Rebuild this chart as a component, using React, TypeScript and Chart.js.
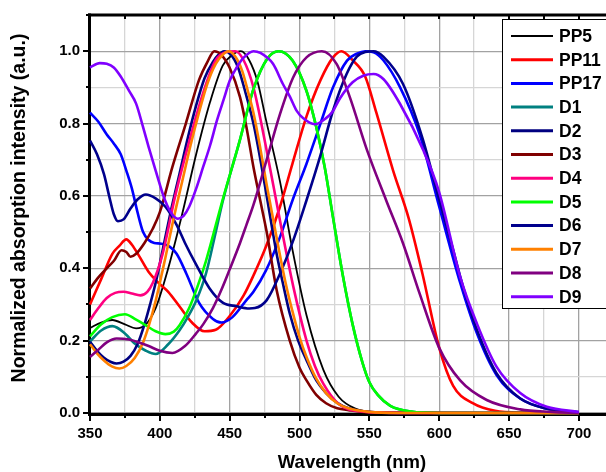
import React, { useEffect, useRef } from 'react';
import { Chart, registerables } from 'chart.js';

Chart.register(...registerables);

const FONT = '"Liberation Sans", Arial, sans-serif';

const seriesNames = ['PP5', 'PP11', 'PP17', 'D1', 'D2', 'D3', 'D4', 'D5', 'D6', 'D7', 'D8', 'D9'];
const seriesColors = ['#000000', '#ff0000', '#0000ff', '#008080', '#000080', '#800000', '#ff0080', '#00ff00', '#00008c', '#ff8000', '#800080', '#8000ff'];

const xTickValues = [350, 400, 450, 500, 550, 600, 650, 700];
const yTickValues = [0.0, 0.2, 0.4, 0.6, 0.8, 1.0];

const pp5Nm = [350, 358, 366, 375, 383, 390, 397, 406, 416, 426, 436, 445, 452, 458, 464, 470, 476, 486, 495, 505, 517, 528, 540, 555, 580, 700];
const pp5Abs = [0.235, 0.25, 0.257, 0.245, 0.234, 0.245, 0.29, 0.4, 0.55, 0.715, 0.86, 0.96, 0.99, 1.0, 0.975, 0.915, 0.81, 0.64, 0.45, 0.27, 0.12, 0.045, 0.012, 0.002, 0, 0];

const pp11Nm = [350, 358, 366, 371, 376, 380, 385, 392, 399, 406, 414, 423, 432, 440, 450, 460, 467, 476, 486, 495, 505, 515, 524, 530, 538, 547, 555, 567, 578, 588, 600, 610, 624, 640, 660, 700];
const pp11Abs = [0.3, 0.37, 0.44, 0.462, 0.48, 0.465, 0.435, 0.39, 0.36, 0.335, 0.295, 0.25, 0.226, 0.23, 0.268, 0.325, 0.38, 0.46, 0.57, 0.69, 0.82, 0.92, 0.983, 1.0, 0.975, 0.93, 0.83, 0.67, 0.54, 0.385, 0.18, 0.075, 0.027, 0.006, 0.001, 0];

const pp17Nm = [350, 356, 362, 367, 372, 376, 380, 384, 388, 392, 396, 401, 407, 412, 419, 428, 438, 444, 452, 462, 467, 476, 486, 495, 505, 515, 524, 534, 541, 547, 553, 560, 572, 586, 600, 615, 627, 641, 658, 677, 700];
const pp17Abs = [0.83, 0.805, 0.77, 0.745, 0.715, 0.67, 0.62, 0.555, 0.5, 0.478, 0.47, 0.468, 0.46, 0.44, 0.385, 0.305, 0.26, 0.25, 0.265, 0.312, 0.335, 0.394, 0.486, 0.588, 0.689, 0.8, 0.9, 0.974, 0.993, 1.0, 0.997, 0.975, 0.9, 0.77, 0.57, 0.36, 0.22, 0.105, 0.04, 0.012, 0.002];

const d1Nm = [350, 358, 366, 375, 382, 390, 397, 406, 414, 420, 426, 433, 440, 445, 457, 467, 477, 485, 495, 505, 512, 518, 524, 531, 538, 545, 550, 556, 565, 580, 600, 700];
const d1Abs = [0.198, 0.228, 0.24, 0.22, 0.192, 0.172, 0.163, 0.19, 0.228, 0.265, 0.31, 0.385, 0.5, 0.585, 0.75, 0.895, 0.98, 1.0, 0.974, 0.89, 0.79, 0.68, 0.54, 0.38, 0.245, 0.14, 0.085, 0.05, 0.02, 0.004, 0, 0];

const d2Nm = [350, 355, 360, 365, 369, 374, 379, 384, 389, 393, 397, 402, 408, 414, 420, 426, 432, 438, 442, 446, 451, 456, 461, 467, 472, 476.5, 483.6, 488, 493, 499, 505, 512, 519, 527, 535, 550, 570, 700];
const d2Abs = [0.197, 0.172, 0.153, 0.141, 0.137, 0.142, 0.158, 0.19, 0.245, 0.3, 0.36, 0.45, 0.56, 0.66, 0.76, 0.85, 0.925, 0.97, 0.99, 1.0, 0.99, 0.955, 0.89, 0.8, 0.7, 0.6, 0.44, 0.36, 0.275, 0.2, 0.146, 0.09, 0.055, 0.028, 0.013, 0.003, 0, 0];

const d3Nm = [350, 356, 362, 367, 372.6, 376, 379, 383, 389, 395, 400, 409, 418.6, 428, 434, 439, 444, 450, 457.4, 462, 467, 472, 476.5, 483.6, 493, 500, 505, 512, 519, 527, 535, 555, 700];
const d3Abs = [0.344, 0.375, 0.4, 0.42, 0.45, 0.445, 0.432, 0.44, 0.47, 0.51, 0.555, 0.68, 0.8, 0.92, 0.97, 1.0, 0.99, 0.954, 0.873, 0.79, 0.68, 0.585, 0.5, 0.34, 0.2, 0.125, 0.09, 0.05, 0.027, 0.013, 0.008, 0.001, 0];

const d4Nm = [350, 356, 362, 368, 374, 380, 386, 391, 395, 402, 411, 421, 431, 440, 447, 454, 460, 467, 476.5, 486, 495.5, 505, 511, 517, 528, 545, 570, 700];
const d4Abs = [0.257, 0.29, 0.318, 0.332, 0.335, 0.33, 0.325, 0.335, 0.36, 0.44, 0.6, 0.75, 0.885, 0.975, 0.997, 1.0, 0.975, 0.9, 0.725, 0.532, 0.35, 0.2, 0.13, 0.081, 0.025, 0.004, 0, 0];

const d5Nm = [350, 358, 366, 375, 383, 390, 397, 404, 410, 414, 421, 427, 433, 445, 457, 467, 477, 485, 495, 505, 512, 518, 524, 531, 538, 545, 550, 556, 565, 580, 600, 700];
const d5Abs = [0.212, 0.245, 0.265, 0.273, 0.258, 0.242, 0.226, 0.218, 0.225, 0.242, 0.29, 0.35, 0.42, 0.59, 0.75, 0.895, 0.98, 1.0, 0.974, 0.89, 0.79, 0.68, 0.54, 0.38, 0.245, 0.14, 0.085, 0.05, 0.02, 0.004, 0, 0];

const d6Nm = [350, 355, 360, 364, 367, 370, 374, 379, 384, 390, 397, 404, 412, 418, 426, 435.5, 445, 455, 464, 468, 476.5, 486, 495.5, 505, 514.6, 524, 533.7, 541, 547, 553, 560, 574, 588, 600, 610, 617, 627, 641, 658, 677, 700];
const d6Abs = [0.753, 0.715, 0.66, 0.595, 0.55, 0.53, 0.535, 0.565, 0.59, 0.604, 0.593, 0.57, 0.52, 0.47, 0.41, 0.345, 0.305, 0.295, 0.289, 0.29, 0.312, 0.385, 0.477, 0.588, 0.707, 0.836, 0.937, 0.985, 0.998, 1.0, 0.985, 0.91, 0.76, 0.59, 0.45, 0.35, 0.23, 0.11, 0.04, 0.012, 0.002];

const d7Nm = [350, 355, 360, 366, 371, 376, 382, 388, 392, 397, 404, 410, 416, 422, 428, 434, 440, 445, 449, 454, 459, 463, 467, 472, 476.5, 484.8, 490, 495, 500, 505, 512, 519, 527, 535, 550, 570, 700];
const d7Abs = [0.19, 0.165, 0.145, 0.128, 0.123, 0.13, 0.152, 0.195, 0.24, 0.31, 0.43, 0.54, 0.64, 0.74, 0.83, 0.91, 0.965, 0.99, 1.0, 0.985, 0.945, 0.89, 0.83, 0.73, 0.63, 0.46, 0.36, 0.28, 0.21, 0.155, 0.095, 0.055, 0.027, 0.013, 0.003, 0, 0];

const d8Nm = [350, 356, 362, 369, 378, 385, 392, 400, 409, 418, 426, 431, 438, 444, 450, 457.4, 462, 467, 476.5, 486, 495.5, 505, 516, 526.5, 536, 548, 562, 574, 586, 600, 615, 634, 658, 680, 700];
const d8Abs = [0.155, 0.175, 0.195, 0.206, 0.203, 0.195, 0.185, 0.172, 0.166, 0.185, 0.22, 0.245, 0.29, 0.34, 0.397, 0.47, 0.52, 0.575, 0.7, 0.826, 0.928, 0.983, 1.0, 0.965, 0.873, 0.73, 0.588, 0.47, 0.33, 0.18, 0.09, 0.036, 0.01, 0.003, 0];

const d9Nm = [350, 357, 362, 367, 372, 378, 383, 388, 392, 397, 404, 409, 413, 417, 421, 426, 431, 436, 441, 446, 450, 455, 460, 467, 472, 481, 488, 493, 498, 502.5, 511, 519, 524, 529, 538, 546, 553, 560, 572, 588.6, 600, 615, 627, 641, 658, 677, 700];
const d9Abs = [0.955, 0.967, 0.965, 0.955, 0.93, 0.89, 0.855, 0.79, 0.735, 0.67, 0.585, 0.548, 0.537, 0.545, 0.57, 0.62, 0.68, 0.74, 0.81, 0.87, 0.918, 0.955, 0.982, 1.0, 0.995, 0.965, 0.91, 0.875, 0.835, 0.815, 0.798, 0.815, 0.835, 0.87, 0.914, 0.933, 0.937, 0.923, 0.854, 0.726, 0.61, 0.376, 0.247, 0.128, 0.055, 0.017, 0.003];

const seriesNm = [pp5Nm, pp11Nm, pp17Nm, d1Nm, d2Nm, d3Nm, d4Nm, d5Nm, d6Nm, d7Nm, d8Nm, d9Nm];
const seriesAbs = [pp5Abs, pp11Abs, pp17Abs, d1Abs, d2Abs, d3Abs, d4Abs, d5Abs, d6Abs, d7Abs, d8Abs, d9Abs];

const X_MIN = 350;
const X_MAX = 719.4;
const Y_MIN = 0;
const Y_MAX = 1.1;

const framePlugin = {
  id: 'originFrame',
  beforeDatasetsDraw(chart: any) {
    const { ctx, chartArea: a, scales } = chart;
    const xs = scales.x;
    const ys = scales.y;
    ctx.save();
    ctx.strokeStyle = '#000';
    ctx.lineWidth = 2;
    for (let v = 350; v <= X_MAX; v += 25) {
      const px = Math.round(xs.getPixelForValue(v));
      const major = v % 50 === 0;
      ctx.beginPath();
      ctx.moveTo(px, a.bottom);
      ctx.lineTo(px, a.bottom + (major ? 8 : 5));
      ctx.stroke();
      ctx.beginPath();
      ctx.moveTo(px, a.top);
      ctx.lineTo(px, a.top + 4);
      ctx.stroke();
    }
    for (let i = 0; i <= 11; i++) {
      const py = Math.round(ys.getPixelForValue(i / 10));
      const major = i % 2 === 0;
      ctx.beginPath();
      ctx.moveTo(a.left, py);
      ctx.lineTo(a.left - (major ? 7 : 4), py);
      ctx.stroke();
    }
    ctx.lineWidth = 3;
    ctx.beginPath();
    ctx.moveTo(a.left - 2, a.bottom + 1.5);
    ctx.lineTo(a.right + 10, a.bottom + 1.5);
    ctx.stroke();
    ctx.beginPath();
    ctx.moveTo(a.left - 0.5, a.bottom + 3);
    ctx.lineTo(a.left - 0.5, a.top - 1.5);
    ctx.stroke();
    ctx.beginPath();
    ctx.moveTo(a.left - 2, a.top);
    ctx.lineTo(a.right + 10, a.top);
    ctx.stroke();
    ctx.restore();
  },
  afterDraw(chart: any) {
    const { ctx } = chart;
    ctx.save();
    ctx.fillStyle = '#000';
    ctx.textAlign = 'center';
    ctx.textBaseline = 'middle';
    ctx.font = `bold 18.5px ${FONT}`;
    ctx.fillText('Wavelength (nm)', 352, 463);
    ctx.font = `bold 19.5px ${FONT}`;
    ctx.translate(20, 208);
    ctx.rotate(-Math.PI / 2);
    ctx.fillText('Normalized absorption intensity (a.u.)', 0, 0);
    ctx.restore();

    ctx.save();
    ctx.fillStyle = '#fff';
    ctx.strokeStyle = '#000';
    ctx.lineWidth = 1;
    ctx.fillRect(502.5, 19.5, 120, 289);
    ctx.strokeRect(502.5, 19.5, 120, 289);
    ctx.font = `bold 17.5px ${FONT}`;
    ctx.textAlign = 'left';
    ctx.textBaseline = 'middle';
    seriesNames.forEach((name, i) => {
      const y = 36 + i * 23.7;
      ctx.strokeStyle = seriesColors[i];
      ctx.lineWidth = i === 0 ? 2 : 3;
      ctx.beginPath();
      ctx.moveTo(511, y);
      ctx.lineTo(553, y);
      ctx.stroke();
      ctx.fillStyle = '#000';
      ctx.fillText(name, 559, y + 1);
    });
    ctx.restore();
  },
};

export default function App() {
  const ref = useRef<HTMLCanvasElement>(null);
  useEffect(() => {
    document.body.style.margin = '0';
    const canvas = ref.current;
    if (!canvas) return;
    const datasets = seriesNames.map((name, i) => ({
      label: name,
      data: seriesNm[i].map((x, j) => ({ x, y: seriesAbs[i][j] })),
      borderColor: seriesColors[i],
      backgroundColor: seriesColors[i],
      borderWidth: i === 0 ? 1.8 : 2.6,
      pointRadius: 0,
      cubicInterpolationMode: 'monotone' as const,
      fill: false,
      clip: false as any,
      order: seriesNames.length - i,
    }));
    const chart = new Chart(canvas, {
      type: 'line',
      data: { datasets },
      plugins: [framePlugin],
      options: {
        responsive: false,
        animation: false,
        devicePixelRatio: 1,
        layout: { padding: { top: 15, left: 0, right: 0, bottom: 0 } },
        plugins: { legend: { display: false }, tooltip: { enabled: false } },
        scales: {
          x: {
            type: 'linear',
            min: X_MIN,
            max: X_MAX,
            afterFit: (s: any) => { s.height = 59; s.paddingLeft = 0; s.paddingRight = 0; },
            border: { display: false },
            grid: {
              drawTicks: false,
              lineWidth: 1.3,
              color: (c: any) => (c.tick && c.tick.value % 50 === 0 ? '#a2a2a2' : '#d6d6d6'),
            },
            ticks: {
              stepSize: 25,
              autoSkip: false,
              includeBounds: false,
              maxRotation: 0,
              padding: 12,
              color: '#000',
              font: { family: FONT, size: 15, weight: 'bold' },
              callback: (v: any) => (xTickValues.includes(Number(v)) ? String(v) : ''),
            },
          },
          y: {
            type: 'linear',
            min: Y_MIN,
            max: Y_MAX,
            afterFit: (s: any) => { s.width = 90; s.paddingTop = 0; s.paddingBottom = 0; },
            border: { display: false },
            grid: {
              drawTicks: false,
              lineWidth: 1.3,
              color: (c: any) => (c.tick && Math.round(c.tick.value * 10) % 2 === 0 ? '#a2a2a2' : '#d6d6d6'),
            },
            ticks: {
              stepSize: 0.1,
              autoSkip: false,
              includeBounds: false,
              padding: 10,
              color: '#000',
              font: { family: FONT, size: 15, weight: 'bold' },
              callback: (v: any) => {
                const n = Math.round(Number(v) * 10) / 10;
                return yTickValues.some((t) => Math.abs(t - n) < 1e-6) ? n.toFixed(1) : '';
              },
            },
          },
        },
      },
    });
    return () => chart.destroy();
  }, []);
  return (
    <div style={{ width: 606, height: 472, overflow: 'hidden' }}>
      <canvas ref={ref} width={606} height={472} style={{ display: 'block', width: 606, height: 472 }} />
    </div>
  );
}
